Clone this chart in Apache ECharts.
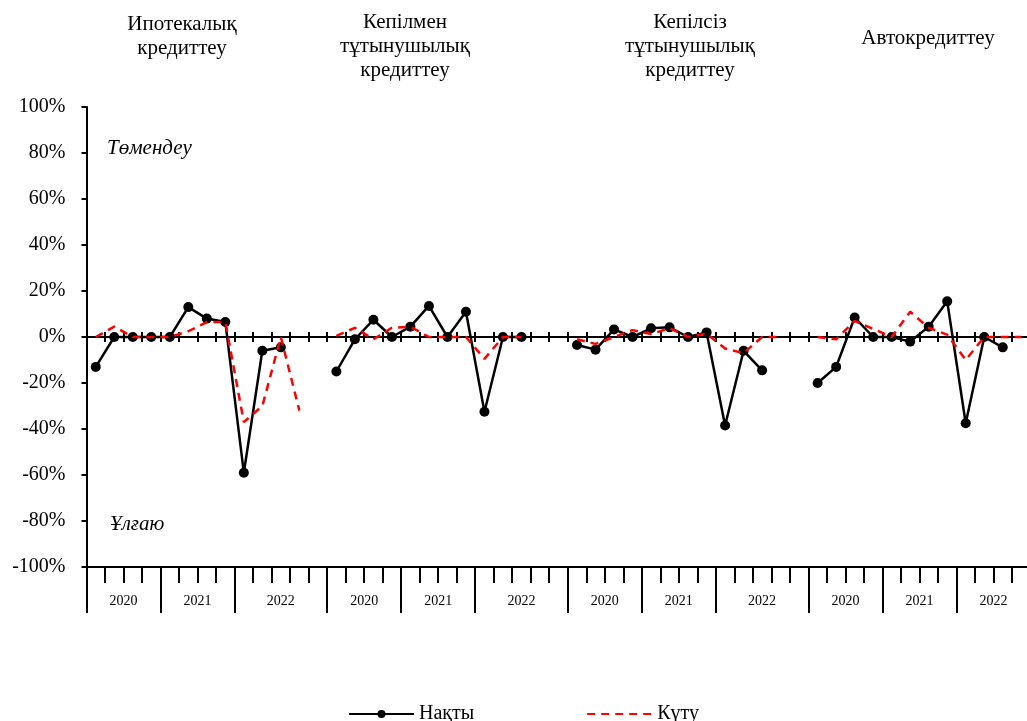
<!DOCTYPE html>
<html><head><meta charset="utf-8">
<script src="https://cdn.jsdelivr.net/npm/echarts@6/dist/echarts.min.js"></script>
<style>html,body{margin:0;padding:0;background:#fff}#c{width:1027px;height:721px}</style>
</head><body><div id="c"></div>
<script>
// ---- data ----
const panelTitles = ['Ипотекалық\nкредиттеу', 'Кепілмен\nтұтынушылық\nкредиттеу', 'Кепілсіз\nтұтынушылық\nкредиттеу', 'Автокредиттеу'];
const years = ['2020', '2021', '2022'];
const quarters = ['I', 'II', 'III', 'IV'];
const seriesNames = ['Нақты', 'Күту'];
const zoneLabels = ['Төмендеу', 'Ұлғаю'];
const yMin = -100, yMax = 100, yStep = 20;

// Нақты (actual), per panel, 2020 Q1 ...
const actual1 = [-13, 0, 0, 0, 0, 13, 8, 6.5, -59, -6, -4.5];
const actual2 = [-15, -1, 7.5, 0, 4.5, 13.5, 0, 11, -32.5, 0, 0];
const actual3 = [-3.5, -5.5, 3.3, 0, 3.8, 4.2, 0, 2, -38.5, -6, -14.5];
const actual4 = [-20, -13, 8.5, 0, 0, -2, 4.5, 15.5, -37.5, 0, -4.5];
// Күту (expected)
const expected1 = [0, 4.5, 0, 0, 0, 2.5, 6.5, 6.5, -37, -30, 0, -32];
const expected2 = [0.5, 4, -1, 4, 4.5, 0, 0, 0, -9.5, 0, 0];
const expected3 = [-1, -3, 0, 3, 1.3, 3.8, 0, 1.5, -5, -7, 0, 0];
const expected4 = [0, -1, 7, 3.5, 0, 11, 4, 1, -10, 0, 0, 0];

const actualPanels = [actual1, actual2, actual3, actual4];
const expectedPanels = [expected1, expected2, expected3, expected4];

// ---- build category axis ----
const cats = [];
const panelStart = [];
const separators = [];
const yearLabelPos = {}; // half-step index -> label
panelTitles.forEach((t, p) => {
  panelStart.push(cats.length);
  years.forEach((y, yi) => {
    const start = cats.length;
    separators.push(start);
    quarters.forEach(q => cats.push(p + '-' + y + '-' + q));
    const hasGap = (yi === years.length - 1) && (p < panelTitles.length - 1);
    if (hasGap) cats.push(p + '-gap');
    const end = cats.length;
    yearLabelPos[start + end] = y; // midpoint in half-steps
  });
});
const N = cats.length;
function fill(panels) {
  const arr = new Array(N).fill(null);
  panels.forEach((vals, p) => vals.forEach((v, i) => { arr[panelStart[p] + i] = v; }));
  return arr;
}
const actualAll = fill(actualPanels);
const expectedAll = fill(expectedPanels);
const halfCats = [];
for (let k = 0; k <= 2 * N; k++) halfCats.push(String(k));

const FONT = '"Liberation Serif", "Times New Roman", serif';
const chart = echarts.init(document.getElementById('c'), null, {renderer: 'canvas'});

const titleX = [182, 405, 690, 928];
const titleY = [36, 46, 46, 38];

const graphic = panelTitles.map((t, i) => ({
  type: 'text', x: titleX[i], y: titleY[i],
  style: {text: t, font: '21px ' + FONT, fill: '#000', textAlign: 'center', textVerticalAlign: 'middle', lineHeight: 24}
}));
graphic.push({type: 'text', x: 107, y: 148, style: {text: zoneLabels[0], font: 'italic 21px ' + FONT, fill: '#000', textVerticalAlign: 'middle'}});
graphic.push({type: 'text', x: 110, y: 524, style: {text: zoneLabels[1], font: 'italic 21px ' + FONT, fill: '#000', textVerticalAlign: 'middle'}});

const black = '#000';
const option = {
  animation: false,
  backgroundColor: '#fff',
  graphic: graphic,
  legend: {
    data: [
      {name: seriesNames[0]},
      {name: seriesNames[1], itemStyle: {opacity: 0}}
    ],
    left: 343, top: 699, itemWidth: 65, itemHeight: 10, itemGap: 112,
    textStyle: {fontFamily: FONT, fontSize: 20, color: '#000'}
  },
  grid: {left: 86.5, width: 944, top: 107, bottom: 154, containLabel: false, outerBoundsMode: 'none'},
  xAxis: [
    { // zero line, ticks downward
      type: 'category', data: cats, position: 'bottom', boundaryGap: true,
      axisLine: {onZero: true, onZeroAxisIndex: 0, lineStyle: {color: black, width: 2}},
      axisTick: {show: true, interval: 0, length: 5, lineStyle: {color: black, width: 2}},
      axisLabel: {show: false}, splitLine: {show: false}
    },
    { // zero line, ticks upward
      type: 'category', data: cats, position: 'top', boundaryGap: true,
      axisLine: {onZero: true, onZeroAxisIndex: 0, lineStyle: {color: black, width: 2}},
      axisTick: {show: true, interval: 0, length: 5, lineStyle: {color: black, width: 2}},
      axisLabel: {show: false}, splitLine: {show: false}
    },
    { // bottom line, small ticks
      type: 'category', data: cats, position: 'bottom', boundaryGap: true,
      axisLine: {onZero: false, lineStyle: {color: black, width: 2}},
      axisTick: {show: true, interval: 0, length: 16, lineStyle: {color: black, width: 2}},
      axisLabel: {show: false}, splitLine: {show: false}
    },
    { // year separators
      type: 'category', data: cats, position: 'bottom', boundaryGap: true,
      axisLine: {show: false, onZero: false},
      axisTick: {show: true, length: 46, interval: (idx) => separators.indexOf(idx) >= 0, lineStyle: {color: black, width: 2}},
      axisLabel: {show: false}, splitLine: {show: false}
    },
    { // year labels
      type: 'category', data: halfCats, position: 'bottom', boundaryGap: false,
      axisLine: {show: false, onZero: false}, axisTick: {show: false},
      axisLabel: {show: true, interval: 0, margin: 27, fontFamily: FONT, fontSize: 14, color: '#000',
        formatter: (v) => yearLabelPos[v] || ''},
      splitLine: {show: false}
    }
  ],
  yAxis: {
    type: 'value', min: yMin, max: yMax, interval: yStep,
    axisLine: {show: true, lineStyle: {color: black, width: 2}},
    axisTick: {show: true, length: 5, lineStyle: {color: black, width: 2}},
    axisLabel: {formatter: '{value}%', fontFamily: FONT, fontSize: 20, color: '#000', margin: 21},
    splitLine: {show: false}
  },
  series: [
    {
      name: seriesNames[0], type: 'line', data: actualAll, xAxisIndex: 0, yAxisIndex: 0,
      symbol: 'circle', symbolSize: 10, showSymbol: true, connectNulls: false,
      itemStyle: {color: black}, lineStyle: {color: black, width: 2.5}, z: 3
    },
    {
      name: seriesNames[1], type: 'line', data: expectedAll, xAxisIndex: 0, yAxisIndex: 0,
      symbol: 'none', connectNulls: false,
      itemStyle: {color: '#ff0000'}, lineStyle: {color: '#ff0000', width: 2.5, type: [8, 6]}, z: 4
    }
  ]
};
chart.setOption(option);
</script></body></html>
